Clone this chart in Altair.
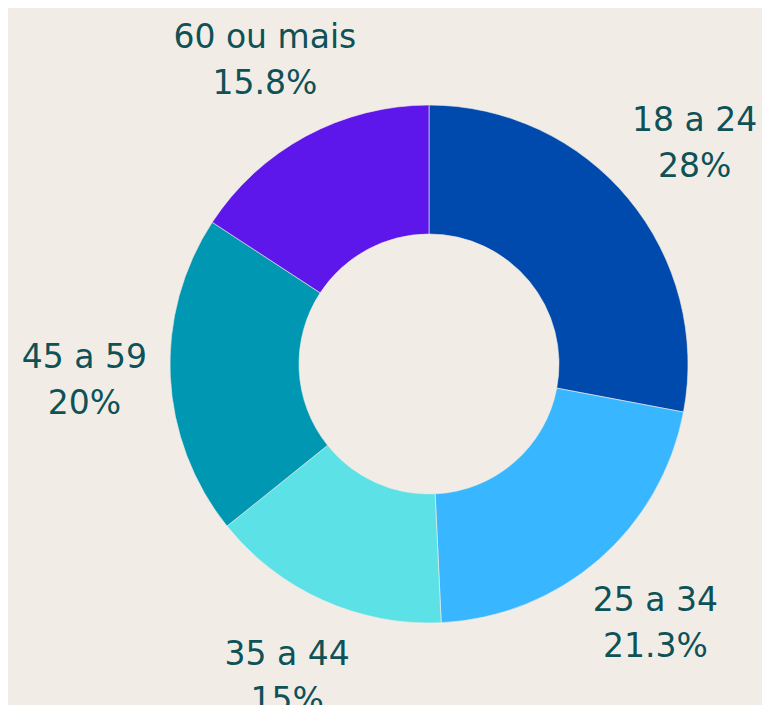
import altair as alt
import pandas as pd

categories = ["18 a 24", "25 a 34", "35 a 44", "45 a 59", "60 ou mais"]
values = [28, 21.3, 15, 20, 15.8]
pct_labels = ["28%", "21.3%", "15%", "20%", "15.8%"]
colors = ["#004AAD", "#38B6FF", "#5CE1E6", "#0097B2", "#5E17EB"]

df = pd.DataFrame({
    "cat": categories,
    "val": values,
    "idx": list(range(len(categories))),
    "label": [f"{c}\n{p}" for c, p in zip(categories, pct_labels)],
})

BG = "#F1EDE6"
CX, CY = 421, 356

base = alt.Chart(df).encode(
    theta=alt.Theta("val:Q", stack=True),
    order=alt.Order("idx:Q"),
)

arcs = base.mark_arc(outerRadius=259, innerRadius=130, stroke=BG, strokeWidth=0.6).encode(
    color=alt.Color("cat:N", scale=alt.Scale(domain=categories, range=colors), legend=None),
    x=alt.value(CX),
    y=alt.value(CY),
)

texts = base.mark_text(
    radius=345, fontSize=33, font="DejaVu Sans", color="#0E5157",
    align="center", baseline="middle", lineBreak="\n", lineHeight=46, dy=-23,
).encode(
    text="label:N",
    x=alt.value(CX),
    y=alt.value(CY),
)

chart = (arcs + texts).properties(
    width=754, height=697, background=BG, padding=0,
    autosize=alt.AutoSizeParams(type="none"),
).configure_view(stroke=None)

chart.save("out.html", embed_options={"renderer": "svg", "actions": False})
